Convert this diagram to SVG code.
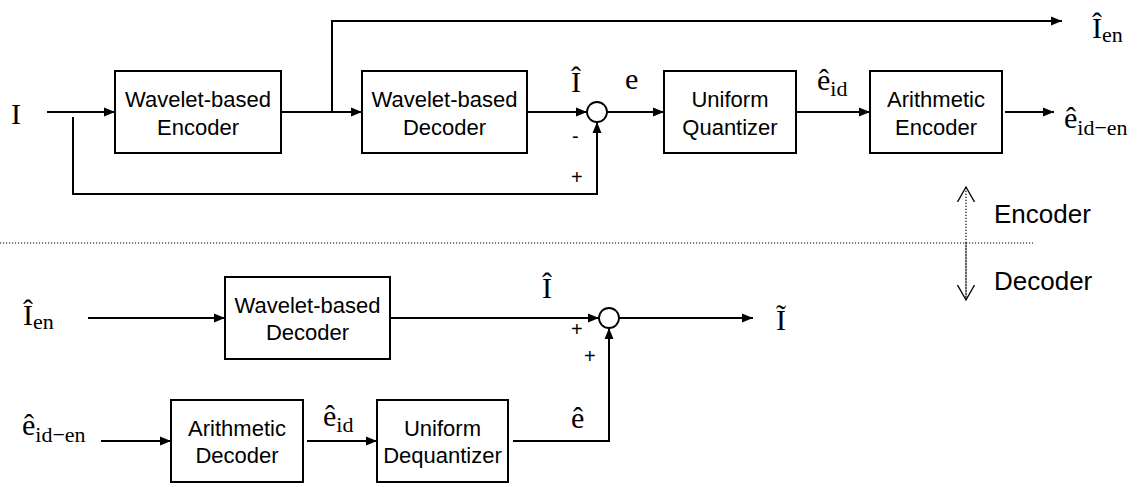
<svg xmlns="http://www.w3.org/2000/svg" width="1137" height="487" viewBox="0 0 1137 487">
<defs>
<marker id="ah" markerUnits="userSpaceOnUse" markerWidth="12" markerHeight="10" refX="11" refY="5" orient="auto">
<path d="M0,0.5 L11,5 L0,9.5 Z" fill="#000"/>
</marker>
<marker id="oh" markerUnits="userSpaceOnUse" markerWidth="20" markerHeight="18" refX="15" refY="9" orient="auto">
<path d="M0,0.5 L15,9 L0,17.5" fill="none" stroke="#000" stroke-width="1.3"/>
</marker>
</defs>
<style>
.box{fill:#fff;stroke:#000;stroke-width:2}
.bt{font-family:"Liberation Sans",Arial,sans-serif;font-size:22px;text-anchor:middle;fill:#000}
.lbl{font-family:"Liberation Sans",Arial,sans-serif;font-size:26px;fill:#000}
.sg{font-family:"Liberation Sans",Arial,sans-serif;font-size:20px;fill:#000}
.m{font-family:"Liberation Serif","Times New Roman",serif;font-size:30px;fill:#000}
.sub{font-size:22px}
.ln{fill:none;stroke:#000;stroke-width:2}
.ar{fill:none;stroke:#000;stroke-width:2;marker-end:url(#ah)}
.dot{fill:none;stroke:#000;stroke-width:1.2;stroke-dasharray:1.2,1.8}
.sum{fill:#fff;stroke:#000;stroke-width:1.8}
</style>
<rect width="1137" height="487" fill="#fff"/>

<g id="connectors">
<line class="ar" x1="47" y1="112" x2="115" y2="112"/>
<line class="ar" x1="281" y1="112" x2="362" y2="112"/>
<polyline class="ar" points="332,112 332,21 1062,21"/>
<line class="ar" x1="527" y1="112" x2="587" y2="112"/>
<polyline class="ar" points="73,117 73,194 597,194 597,122"/>
<line class="ar" x1="607" y1="112" x2="664" y2="112"/>
<line class="ar" x1="796" y1="112" x2="870" y2="112"/>
<line class="ar" x1="1005" y1="112" x2="1054" y2="112"/>
<line class="ar" x1="88" y1="318" x2="225" y2="318"/>
<line class="ar" x1="390" y1="318" x2="599" y2="318"/>
<line class="ar" x1="619" y1="318" x2="753" y2="318"/>
<line class="ar" x1="101" y1="441" x2="171" y2="441"/>
<line class="ar" x1="307" y1="441" x2="377" y2="441"/>
<polyline class="ar" points="513,441 609,441 609,328"/>
<line class="dot" x1="0" y1="243" x2="1033" y2="243"/>
<line class="dot" x1="966" y1="300" x2="966" y2="187" style="marker-end:url(#oh)"/>
<line class="dot" x1="966" y1="243" x2="966" y2="300" style="marker-end:url(#oh)"/>
</g>

<g id="wavelet-encoder">
<rect class="box" x="115" y="71" width="166" height="82"/>
<text class="bt" x="198" y="107">Wavelet-based</text>
<text class="bt" x="198" y="135">Encoder</text>
</g>
<g id="wavelet-decoder-enc">
<rect class="box" x="362" y="71" width="165" height="82"/>
<text class="bt" x="444.5" y="107">Wavelet-based</text>
<text class="bt" x="444.5" y="135">Decoder</text>
</g>
<g id="sum-enc">
<circle class="sum" cx="597" cy="112" r="10"/>
</g>
<g id="uniform-quantizer">
<rect class="box" x="664" y="71" width="132" height="82"/>
<text class="bt" x="730" y="107">Uniform</text>
<text class="bt" x="730" y="135">Quantizer</text>
</g>
<g id="arithmetic-encoder">
<rect class="box" x="870" y="71" width="132" height="82"/>
<text class="bt" x="936" y="107">Arithmetic</text>
<text class="bt" x="936" y="135">Encoder</text>
</g>

<g id="wavelet-decoder-dec">
<rect class="box" x="225" y="277" width="165" height="82"/>
<text class="bt" x="307.5" y="313">Wavelet-based</text>
<text class="bt" x="307.5" y="340">Decoder</text>
</g>
<g id="sum-dec">
<circle class="sum" cx="609" cy="318" r="10"/>
</g>
<g id="arithmetic-decoder">
<rect class="box" x="171" y="400" width="132" height="82"/>
<text class="bt" x="237" y="436">Arithmetic</text>
<text class="bt" x="237" y="463">Decoder</text>
</g>
<g id="uniform-dequantizer">
<rect class="box" x="377" y="400" width="131" height="82"/>
<text class="bt" x="442.5" y="436">Uniform</text>
<text class="bt" x="442.5" y="463">Dequantizer</text>
</g>

<g id="labels">
<text class="m" x="11" y="124">I</text>
<text class="m" x="571" y="92">Î</text>
<text class="m" x="625" y="89">e</text>
<text class="m" x="817" y="90">ê<tspan class="sub" dy="6">id</tspan></text>
<text class="m" x="1064" y="128">ê<tspan class="sub" dy="7">id−en</tspan></text>
<text class="m" x="1092" y="38">Î<tspan class="sub" dy="4">en</tspan></text>
<text class="sg" x="572" y="143">-</text>
<text class="sg" x="571" y="184">+</text>

<text class="m" x="23" y="325">Î<tspan class="sub" dy="4">en</tspan></text>
<text class="m" x="22" y="435">ê<tspan class="sub" dy="7">id−en</tspan></text>
<text class="m" x="323" y="426">ê<tspan class="sub" dy="6">id</tspan></text>
<text class="m" x="542" y="298">Î</text>
<text class="m" x="571" y="428">ê</text>
<text class="m" x="776" y="330">Ĩ</text>
<text class="sg" x="571" y="336">+</text>
<text class="sg" x="584" y="363">+</text>

<text class="lbl" x="994" y="223">Encoder</text>
<text class="lbl" x="994" y="290">Decoder</text>
</g>
</svg>
